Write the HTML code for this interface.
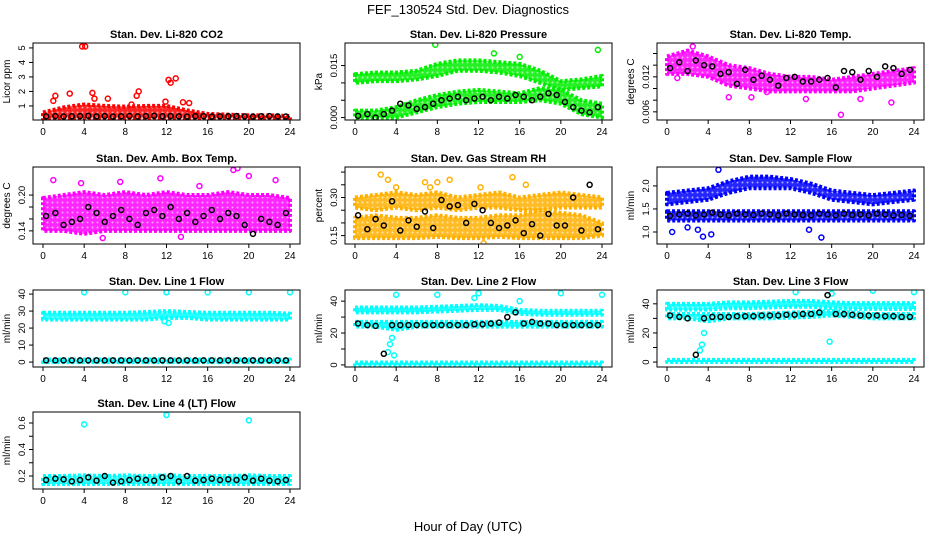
<!DOCTYPE html>
<html><head><meta charset="utf-8"><style>
body{margin:0;background:#fff}
svg{display:block;font-family:"Liberation Sans",Arial,sans-serif}
</style></head><body>
<svg id="chart" width="936" height="540" viewBox="0 0 936 540">
<text x="468" y="14" text-anchor="middle" font-size="13">FEF_130524  Std. Dev. Diagnostics</text>
<text x="468" y="531" text-anchor="middle" font-size="13">Hour of Day (UTC)</text>
</svg>
<script>
// shared
const gridHours = [0,2,4,6,8,10,12,14,16,18,20,22,24];
const blackHours = [0.3,1.2,2.0,2.8,3.6,4.4,5.2,6.0,6.8,7.6,8.4,9.2,10,10.8,11.6,12.4,13.2,14,14.8,15.6,16.4,17.2,18,18.8,19.6,20.4,21.2,22,22.8,23.6];
const xTicks = [0,4,8,12,16,20,24];

// Panel 1 CO2
const co2Low = [0.15,0.15,0.15,0.15,0.15,0.15,0.15,0.15,0.15,0.15,0.15,0.15,0.15];
const co2High = [0.55,0.9,1.1,1.0,0.95,1.0,1.0,0.7,0.45,0.4,0.35,0.35,0.3];
const co2OutX = [3.8,4.1,12.2,12.9,12.4,1.2,1.0,5.0,6.3,4.8,2.6,8.6,9.3,9.1,11.9,14.2,13.6];
const co2OutY = [5.1,5.1,2.8,2.9,2.6,1.7,1.35,1.5,1.5,1.9,1.85,1.1,2.0,1.7,1.3,1.2,1.25];
const co2Black = [0.28,0.3,0.27,0.29,0.3,0.32,0.28,0.3,0.27,0.29,0.31,0.28,0.3,0.32,0.29,0.3,0.28,0.27,0.29,0.3,0.27,0.28,0.29,0.3,0.28,0.27,0.29,0.3,0.28,0.27];
// Panel 2 Pressure
const presUpLow = [0.010,0.0105,0.0105,0.011,0.012,0.0135,0.0135,0.013,0.012,0.010,0.008,0.0085,0.009];
const presUpHigh = [0.0125,0.013,0.013,0.0135,0.0155,0.0165,0.0165,0.016,0.0155,0.0135,0.0105,0.011,0.012];
const presLoLow = [0,0,0,0.0015,0.003,0.004,0.0045,0.0045,0.0045,0.005,0.004,0.001,0];
const presLoHigh = [0.002,0.002,0.003,0.005,0.0065,0.0075,0.008,0.0075,0.007,0.0085,0.008,0.005,0.004];
const presOutX = [7.8,16,23.6,13.5];
const presOutY = [0.021,0.0175,0.0195,0.0185];
const presBlack = [0.0005,0.001,0,0.001,0.002,0.004,0.0035,0.0025,0.003,0.004,0.005,0.0055,0.006,0.005,0.0055,0.006,0.005,0.006,0.0055,0.0065,0.006,0.005,0.006,0.007,0.0065,0.0045,0.003,0.002,0.0015,0.003];
// Panel 3 Li-820 temp
const ltLow = [0.0125,0.0125,0.012,0.0105,0.010,0.0095,0.0095,0.0095,0.0095,0.0095,0.010,0.0105,0.011];
const ltHigh = [0.0155,0.0165,0.0155,0.014,0.0135,0.0125,0.012,0.012,0.0115,0.012,0.0125,0.013,0.0135];
const ltOutX = [2.5,8.2,9.7,16.9,18.8,21.8,1.0,6.0,13.5];
const ltOutY = [0.0172,0.0085,0.0094,0.0055,0.0082,0.0076,0.0118,0.0085,0.0082];
const ltBlack = [0.0135,0.0145,0.013,0.0148,0.014,0.0138,0.0125,0.0128,0.0108,0.0132,0.0115,0.0122,0.0115,0.0105,0.0118,0.012,0.0112,0.0112,0.0115,0.0118,0.0102,0.013,0.0128,0.0115,0.013,0.012,0.0138,0.0135,0.0125,0.0132];
// Panel 4 Amb box temp
const abLow = [0.14,0.14,0.135,0.14,0.14,0.14,0.14,0.14,0.14,0.14,0.14,0.14,0.14];
const abHigh = [0.195,0.2,0.205,0.2,0.205,0.2,0.205,0.2,0.2,0.205,0.2,0.2,0.195];
const abOutX = [1.0,3.7,7.5,11.4,15.2,18.5,18.9,20.0,22.6,5.8,13.4];
const abOutY = [0.225,0.22,0.222,0.228,0.215,0.242,0.245,0.232,0.225,0.128,0.13];
const abBlack = [0.165,0.17,0.15,0.155,0.16,0.18,0.17,0.155,0.165,0.175,0.16,0.15,0.17,0.175,0.165,0.18,0.16,0.17,0.155,0.165,0.175,0.16,0.17,0.165,0.15,0.135,0.16,0.155,0.15,0.17];
// Panel 5 Gas stream RH
const rhLow = [0.14,0.14,0.14,0.14,0.145,0.14,0.14,0.145,0.14,0.14,0.14,0.14,0.15];
const rhHigh = [0.22,0.23,0.22,0.22,0.23,0.22,0.22,0.23,0.23,0.25,0.24,0.23,0.2];
const rh2Low = [0.26,0.25,0.26,0.25,0.26,0.25,0.26,0.26,0.25,0.25,0.26,0.26,0.26];
const rh2High = [0.3,0.31,0.32,0.31,0.32,0.3,0.31,0.32,0.3,0.31,0.32,0.31,0.3];
const rhOutX = [2.5,3.2,6.8,7.3,8.0,9.2,12.2,15.3,16.6,12.5,4.0];
const rhOutY = [0.39,0.37,0.36,0.34,0.36,0.37,0.34,0.38,0.35,0.12,0.34];
const rhBlack = [0.23,0.175,0.215,0.19,0.285,0.17,0.21,0.185,0.245,0.18,0.29,0.265,0.27,0.2,0.275,0.25,0.2,0.18,0.19,0.21,0.16,0.195,0.15,0.235,0.19,0.19,0.3,0.17,0.35,0.175];
// Panel 6 Sample flow
const sfLow = [1.25,1.25,1.25,1.25,1.25,1.25,1.25,1.25,1.25,1.25,1.25,1.25,1.25];
const sfHigh = [1.45,1.45,1.45,1.45,1.45,1.45,1.45,1.45,1.45,1.45,1.45,1.45,1.45];
const sf2Low = [1.6,1.65,1.7,1.85,1.95,1.95,1.95,1.85,1.7,1.65,1.6,1.65,1.7];
const sf2High = [1.85,1.9,1.95,2.1,2.2,2.2,2.15,2.05,1.9,1.85,1.8,1.85,1.9];
const sfOutX = [3.5,4.3,5.0,3.0,15.0,0.5,2.0,13.8];
const sfOutY = [0.9,0.95,2.35,1.05,0.88,1.0,1.1,1.05];
const sfBlack = [1.35,1.38,1.4,1.36,1.38,1.42,1.38,1.36,1.4,1.38,1.37,1.4,1.38,1.36,1.4,1.38,1.37,1.36,1.4,1.38,1.36,1.4,1.37,1.38,1.36,1.4,1.38,1.36,1.37,1.35];
// Panel 7 Line 1 flow
const l1Low = [25,25,25,25,25,25,26,26,25,25,25,25,25];
const l1High = [29,29,29,29,29,29.5,30,29.5,29,29,29,29,28.5];
const l1bLow = [0,0,0,0,0,0,0,0,0,0,0,0,0];
const l1bHigh = [1.5,1.5,1.5,1.5,1.5,1.5,1.5,1.5,1.5,1.5,1.5,1.5,1.5];
const l1OutX = [4,8,12,12.2,11.8,16,20,24];
const l1OutY = [41,41,41,23,24,41,41,41];
const l1Black = [1,1,1,1,1,1,1,1,1,1,1,1,1,1,1,1,1,1,1,1,1,1,1,1,1,1,1,1,1,1];
// Panel 8 Line 2 flow
const l2Low = [33,33,33,33,33.5,34,34.5,34.5,32,31.5,31.5,31.5,31.5];
const l2High = [36,36,36,36,36.5,37,37.5,37,34.5,34,34,34,34];
const l2bLow = [24,24,22,24,24,24,24,24,24,24,24,24,24];
const l2bHigh = [27,27,27,27,27,27,27,27,27,27,27,27,27];
const l2cLow = [0,0,0,0,0,0,0,0,0,0,0,0,0];
const l2cHigh = [1.5,1.5,1.5,1.5,1.5,1.5,1.5,1.5,1.5,1.5,1.5,1.5,1.5];
const l2OutX = [4,8,11.6,12,16,20,24,3.4,3.6,3.8,3.2];
const l2OutY = [44,44,42,45,40,45,44,13,17,6,8];
const l2Black = [26,25,24.5,7,25,25,25,25,25,25,25,25,25,25,25.5,25.5,26,26.5,30,33,26,27,26,26,25,25,25,25,25,25];
// Panel 9 Line 3 flow
const l3Low = [36,36,36,37,37,37.5,38,38,37,36.5,36.5,36.5,36.5];
const l3High = [40,40,40,41,41,41.5,42,42,41,40.5,40.5,40.5,40.5];
const l3bLow = [30,30,28,30,30,30,30.5,31,32,31,30,30,30];
const l3bHigh = [33,33,33,33,33,33.5,34,34.5,35,34,33,33,33];
const l3cLow = [0,0,0,0,0,0,0,0,0,0,0,0,0];
const l3cHigh = [1.5,1.5,1.5,1.5,1.5,1.5,1.5,1.5,1.5,1.5,1.5,1.5,1.5];
const l3OutX = [12.5,16,20,24,3.4,3.6,3.2,15.8];
const l3OutY = [48,47,49,48,12,20,8,14];
const l3Black = [32,31,30,5,30,31,31,31,31.5,31.5,31.5,32,32,32,32.5,32.5,33,33,34,46,33,33,32.5,32,32,32,31.5,31.5,31,31];
// Panel 10 Line 4 (LT) flow
const l4Low = [0.14,0.14,0.14,0.14,0.14,0.14,0.14,0.14,0.14,0.14,0.14,0.14,0.14];
const l4High = [0.2,0.2,0.205,0.2,0.205,0.2,0.205,0.2,0.2,0.2,0.205,0.2,0.2];
const l4OutX = [4,12,20];
const l4OutY = [0.59,0.66,0.62];
const l4Black = [0.17,0.18,0.175,0.16,0.17,0.19,0.165,0.2,0.15,0.16,0.17,0.18,0.17,0.165,0.19,0.2,0.16,0.2,0.165,0.17,0.18,0.17,0.175,0.17,0.19,0.165,0.18,0.165,0.16,0.17];

const panels = [
 {name:'co2',title:'Stan. Dev. Li-820 CO2',ylab:'Licor ppm',col:0,row:0,ymin:0.03,ymax:5.34,ticks:[1,2,3,4,5],labels:['1','2','3','4','5'],color:'#ff0000',bands:[[co2Low,co2High]],ox:co2OutX,oy:co2OutY,black:co2Black},
 {name:'pressure',title:'Stan. Dev. Li-820 Pressure',ylab:'kPa',col:1,row:0,ymin:-0.0007,ymax:0.0215,ticks:[0,0.005,0.010,0.015],labels:['0.000','','','0.015'],color:'#00ee00',bands:[[presUpLow,presUpHigh],[presLoLow,presLoHigh]],ox:presOutX,oy:presOutY,black:presBlack},
 {name:'licor-temp',title:'Stan. Dev. Li-820 Temp.',ylab:'degrees C',col:2,row:0,ymin:0.0046,ymax:0.0178,ticks:[0.006,0.008,0.010,0.012,0.014,0.016],labels:['0.006','','','0.012','',''],color:'#ff00ff',bands:[[ltLow,ltHigh]],ox:ltOutX,oy:ltOutY,black:ltBlack},
 {name:'amb-box-temp',title:'Stan. Dev. Amb. Box Temp.',ylab:'degrees C',col:0,row:1,ymin:0.118,ymax:0.247,ticks:[0.14,0.16,0.18,0.20],labels:['0.14','','','0.20'],color:'#ff00ff',bands:[[abLow,abHigh]],ox:abOutX,oy:abOutY,black:abBlack},
 {name:'gas-rh',title:'Stan. Dev. Gas Stream RH',ylab:'percent',col:1,row:1,ymin:0.117,ymax:0.42,ticks:[0.15,0.20,0.25,0.30,0.35,0.40],labels:['0.15','','','0.30','',''],color:'#ffb000',bands:[[rhLow,rhHigh],[rh2Low,rh2High]],ox:rhOutX,oy:rhOutY,black:rhBlack},
 {name:'sample-flow',title:'Stan. Dev. Sample Flow',ylab:'ml/min',col:2,row:1,ymin:0.74,ymax:2.41,ticks:[1.0,1.5,2.0],labels:['1.0','1.5','2.0'],color:'#0000ff',bands:[[sfLow,sfHigh],[sf2Low,sf2High]],ox:sfOutX,oy:sfOutY,black:sfBlack},
 {name:'line1-flow',title:'Stan. Dev. Line 1 Flow',ylab:'ml/min',col:0,row:2,ymin:-2.9,ymax:42.4,ticks:[0,10,20,30,40],labels:['0','10','20','30','40'],color:'#00ffff',bands:[[l1Low,l1High],[l1bLow,l1bHigh]],ox:l1OutX,oy:l1OutY,black:l1Black},
 {name:'line2-flow',title:'Stan. Dev. Line 2 Flow',ylab:'ml/min',col:1,row:2,ymin:-1.3,ymax:47,ticks:[0,10,20,30,40],labels:['0','','20','','40'],color:'#00ffff',bands:[[l2Low,l2High],[l2bLow,l2bHigh],[l2cLow,l2cHigh]],ox:l2OutX,oy:l2OutY,black:l2Black},
 {name:'line3-flow',title:'Stan. Dev. Line 3 Flow',ylab:'ml/min',col:2,row:2,ymin:-3.4,ymax:49.5,ticks:[0,10,20,30,40],labels:['0','','20','','40'],color:'#00ffff',bands:[[l3Low,l3High],[l3bLow,l3bHigh],[l3cLow,l3cHigh]],ox:l3OutX,oy:l3OutY,black:l3Black},
 {name:'line4-flow',title:'Stan. Dev. Line 4 (LT) Flow',ylab:'ml/min',col:0,row:3,ymin:0.102,ymax:0.683,ticks:[0.2,0.3,0.4,0.5,0.6],labels:['0.2','','0.4','','0.6'],color:'#00ffff',bands:[[l4Low,l4High]],ox:l4OutX,oy:l4OutY,black:l4Black}
];

const NS='http://www.w3.org/2000/svg';
const svg=document.getElementById('chart');
const colLeft=[33,345,657], rowTop=[43,167,290,412], BW=267, BH=77;
function mk(tag,attrs,parent){const e=document.createElementNS(NS,tag);for(const k in attrs)e.setAttribute(k,attrs[k]);parent.appendChild(e);return e;}
const defs=mk('defs',{},svg);

panels.forEach(p=>{
  const L=colLeft[p.col], T=rowTop[p.row];
  const xs=h=>L+10+h*(BW-20)/24;
  const ys=v=>T+BH-(v-p.ymin)/(p.ymax-p.ymin)*BH;
  const pat=mk('pattern',{id:'pat-'+p.name,width:5,height:5,patternUnits:'userSpaceOnUse'},defs);
  mk('rect',{width:5,height:5,fill:p.color,opacity:0.85},pat);
  mk('circle',{cx:2.5,cy:2.5,r:1,fill:'#fff',opacity:0.6},pat);
  const g=mk('g',{},svg);
  
  
  const clip=mk('clipPath',{id:'c-'+p.name},g);
  mk('rect',{x:L,y:T,width:BW,height:BH},clip);
  const marks=mk('g',{'clip-path':'url(#c-'+p.name+')'},g);
  p.bands.forEach((b,bi)=>{
    let pts=gridHours.map((h,i)=>xs(h)+','+ys(b[1][i]));
    for(let i=gridHours.length-1;i>=0;i--) pts.push(xs(gridHours[i])+','+ys(b[0][i]));
    const poly=mk('polygon',{points:pts.join(' '),fill:'url(#pat-'+p.name+')',stroke:p.color,'stroke-width':4,'stroke-linejoin':'round','stroke-dasharray':'3 2'},marks);
    
    
  });
  p.ox.forEach((h,i)=>{
    const c=mk('circle',{cx:xs(h),cy:ys(p.oy[i]),r:2.5,fill:'none',stroke:p.color,'stroke-width':1.5},marks);
    
    
  });
  p.black.forEach((v,i)=>{
    const c=mk('circle',{cx:xs(blackHours[i]),cy:ys(v),r:2.5,fill:'none',stroke:'#000','stroke-width':1.5},marks);
    
    
  });
  const box=mk('rect',{x:L,y:T,width:BW,height:BH,fill:'none',stroke:'#000','stroke-width':1},g);
  
  
  const t=mk('text',{x:L+BW/2,y:T-5,'text-anchor':'middle','font-size':11,'font-weight':'bold'},g);
  t.textContent=p.title;
  
  
  xTicks.forEach(h=>{
    mk('line',{x1:xs(h),x2:xs(h),y1:T+BH,y2:T+BH+4,stroke:'#000'},g);
    const tx=mk('text',{x:xs(h),y:T+BH+15,'text-anchor':'middle','font-size':10},g);
    tx.textContent=h;
    
    
  });
  p.ticks.forEach((v,i)=>{
    const y=ys(v);
    mk('line',{x1:L-4,x2:L,y1:y,y2:y,stroke:'#000'},g);
    if(p.labels[i]){
      const ty=mk('text',{x:L-8,y:y,'text-anchor':'middle','font-size':9.5,transform:'rotate(-90 '+(L-8)+' '+y+')'},g);
      ty.textContent=p.labels[i];
      
      
    }
  });
  const yl=mk('text',{x:L-23,y:T+BH/2,'text-anchor':'middle','font-size':10,transform:'rotate(-90 '+(L-23)+' '+(T+BH/2)+')'},g);
  yl.textContent=p.ylab;
  
  
});
</script>
</body></html>
